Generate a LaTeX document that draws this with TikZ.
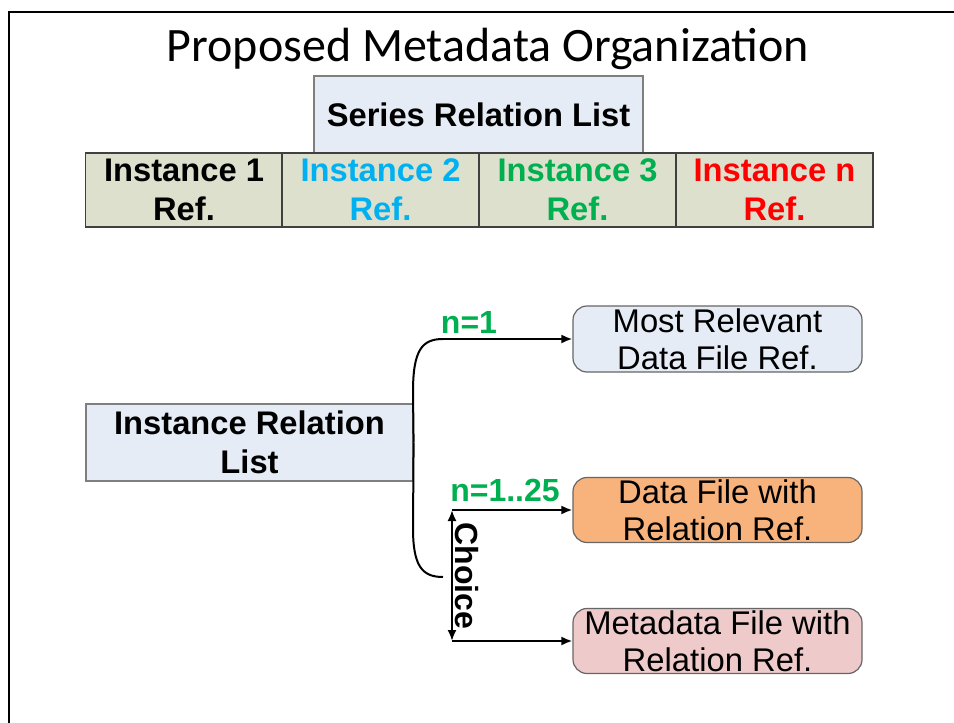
\documentclass[tikz,border=0pt]{standalone}
\usepackage{fontspec}
\setmainfont{Liberation Sans}
\newfontfamily\calib{Carlito}
\usetikzlibrary{arrows.meta}
\definecolor{lblue}{HTML}{E6ECF6}
\definecolor{olivebg}{HTML}{DDE0CC}
\definecolor{orangebg}{HTML}{F7B37B}
\definecolor{pinkbg}{HTML}{EECACA}
\definecolor{cyantxt}{HTML}{00B0F0}
\definecolor{greentxt}{HTML}{00B050}
\definecolor{redtxt}{HTML}{FF0000}
\definecolor{boxline}{HTML}{7F7F7F}
\tikzset{
  boldfont/.style={font=\bfseries\fontsize{32.7}{39}\selectfont},
  sqbox/.style={draw=boxline, line width=1.2pt, fill=lblue, inner sep=0pt, align=center, boldfont},
  cell/.style={draw=black!75, line width=1.2pt, fill=olivebg, inner sep=0pt, minimum width=197pt, minimum height=74pt, align=center, boldfont},
  rbox/.style={draw=black!60, line width=1.2pt, rounded corners=14pt, inner sep=0pt, minimum width=289pt, minimum height=66pt, align=center, font=\fontsize{32.8}{37}\selectfont},
  conn/.style={line width=2pt, black},
  arr/.style={conn, -{Latex[length=11pt,width=9pt]}},
  darr/.style={conn, {Latex[length=11pt,width=9pt]}-{Latex[length=11pt,width=9pt]}},
  lbl/.style={text=greentxt, font=\bfseries\fontsize{32}{38}\selectfont, inner sep=0pt}
}
\begin{document}
\begin{tikzpicture}[x=1pt,y=-1pt]
\useasboundingbox (0,0) rectangle (954,723);
% frame
\draw[line width=2.5pt] (9,723) -- (9,12) -- (954,12);
% title
\node[font=\calib\fontsize{48}{58}\selectfont, anchor=base, inner sep=0pt] (title) at (488,61) {Proposed Metadata Organization};
% series relation list
\node[sqbox, minimum width=329pt, minimum height=77pt] (series) at (478.5,114.5) {Series Relation List};
% instance row
\node[cell] (i1) at (184,190) {Instance 1\\Ref.};
\node[cell, text=cyantxt] (i2) at (380.5,190) {Instance 2\\Ref.};
\node[cell, text=greentxt] (i3) at (577.5,190) {Instance 3\\Ref.};
\node[cell, text=redtxt] (in) at (774.5,190) {Instance n\\Ref.};
% instance relation list
\node[sqbox, minimum width=327pt, minimum height=77pt] (irl) at (249.5,442.5) {Instance Relation\\List};
% right boxes
\node[rbox, fill=lblue] (mrel) at (717.5,339) {Most Relevant\\Data File Ref.};
\node[rbox, fill=orangebg, minimum height=65pt] (dfile) at (717.5,510) {Data File with\\Relation Ref.};
\node[rbox, fill=pinkbg, minimum height=65pt] (mfile) at (717.5,641) {Metadata File with\\Relation Ref.};
% bracket
\coordinate (tb) at (443,339);
\coordinate (cb) at (443,577);
\draw[conn] (irl.east) -- (413,392) .. controls (413,350) and (422,339) .. (tb);
\draw[arr] (tb) -- (mrel.west);
\draw[conn] (irl.east) -- (413,528) .. controls (413,566) and (422,577) .. (cb);
% choice
\coordinate (ct) at (452,510);
\coordinate (cm) at (452,641);
\draw[arr] (ct) -- (dfile.west);
\draw[arr] (cm) -- (mfile.west);
\draw[darr] (ct) -- (cm);
\node[font=\bfseries\fontsize{32}{38}\selectfont, rotate=-90, inner sep=0pt] (choice) at (467,576) {Choice};
% labels
\node[lbl] (l1) at (469,322) {n=1};
\node[lbl] (l2) at (505,490) {n=1..25};
\end{tikzpicture}
\end{document}
